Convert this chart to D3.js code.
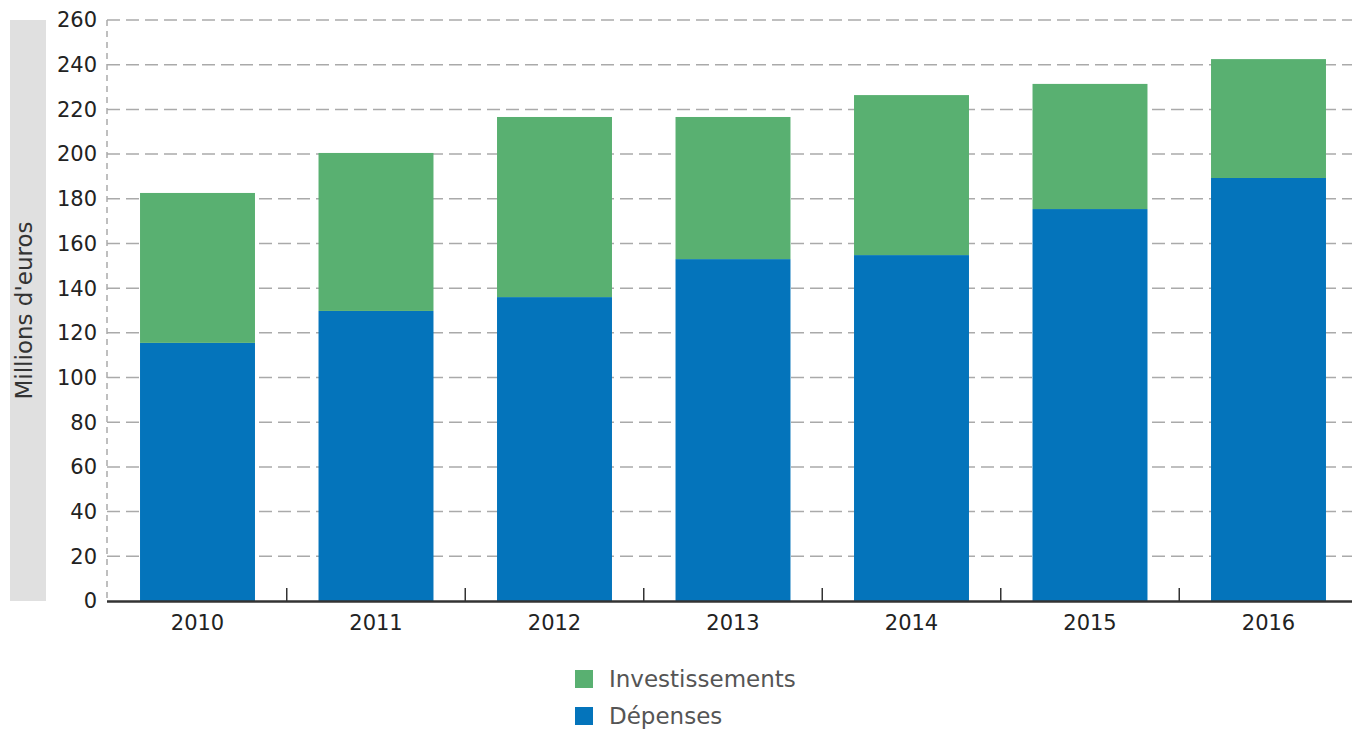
<!DOCTYPE html>
<html>
<head>
<meta charset="utf-8">
<script src="https://cdn.jsdelivr.net/npm/d3@7"></script>
<style>
  body { margin: 0; background: #fff; }
  svg { display: block; font-family: "DejaVu Sans", sans-serif; }
</style>
</head>
<body>
<div id="chart"></div>
<script>
// données
const years = ['2010', '2011', '2012', '2013', '2014', '2015', '2016'];
const depenses = [115.5, 129.8, 136.0, 153.0, 154.8, 175.4, 189.3];
const investissements = [67.1, 70.7, 80.6, 63.6, 71.6, 56.0, 53.2];
const yTicks = [0, 20, 40, 60, 80, 100, 120, 140, 160, 180, 200, 220, 240, 260];
const seriesNames = ['Dépenses', 'Investissements'];
const colors = { 'Dépenses': '#0474bb', 'Investissements': '#59b071' };

const width = 1352, height = 729;
const margin = { top: 20, right: -7, bottom: 128, left: 107 };

const svg = d3.select('#chart').append('svg')
  .attr('width', width)
  .attr('height', height);

const x = d3.scaleBand()
  .domain(years)
  .range([margin.left, width - margin.right])
  .paddingInner(0.356)
  .paddingOuter(0.185);

const y = d3.scaleLinear()
  .domain([0, 260])
  .range([height - margin.bottom, margin.top]);

// bande grise du titre de l'axe
svg.append('rect')
  .attr('x', 10).attr('y', y(260))
  .attr('width', 36).attr('height', y(0) - y(260))
  .attr('fill', '#e0e0e0');

svg.append('text')
  .attr('transform', `translate(32,${(y(0) + y(260)) / 2}) rotate(-90)`)
  .attr('text-anchor', 'middle')
  .attr('font-size', 23)
  .attr('fill', '#333')
  .text("Millions d'euros");

// grille
svg.append('g')
  .selectAll('line')
  .data(yTicks.filter(d => d > 0))
  .join('line')
  .attr('x1', margin.left).attr('x2', width)
  .attr('y1', d => y(d)).attr('y2', d => y(d))
  .attr('stroke', '#aaa')
  .attr('stroke-width', 1.5)
  .attr('stroke-dasharray', '13,6');

// axe vertical en pointillés
svg.append('line')
  .attr('x1', margin.left).attr('x2', margin.left)
  .attr('y1', y(260)).attr('y2', y(0))
  .attr('stroke', '#aaa')
  .attr('stroke-width', 1.5)
  .attr('stroke-dasharray', '6,5');

// étiquettes Y
svg.append('g')
  .selectAll('text')
  .data(yTicks)
  .join('text')
  .attr('x', 97)
  .attr('y', d => y(d))
  .attr('dy', '0.35em')
  .attr('text-anchor', 'end')
  .attr('font-size', 21)
  .attr('fill', '#222')
  .text(d => d);

// barres empilées
const table = years.map((yr, i) => ({
  year: yr,
  'Dépenses': depenses[i],
  'Investissements': investissements[i]
}));
const stacked = d3.stack().keys(seriesNames)(table);

svg.append('g')
  .selectAll('g')
  .data(stacked)
  .join('g')
  .attr('fill', d => colors[d.key])
  .selectAll('rect')
  .data(d => d)
  .join('rect')
  .attr('x', d => x(d.data.year))
  .attr('width', x.bandwidth())
  .attr('y', d => y(d[1]))
  .attr('height', d => y(d[0]) - y(d[1]));

// axe horizontal
const step = x.step();
const boundaries = years.slice(1).map(yr => x(yr) - step * x.paddingInner() / 2);
svg.append('g')
  .selectAll('line')
  .data(boundaries)
  .join('line')
  .attr('x1', d => d).attr('x2', d => d)
  .attr('y1', y(0)).attr('y2', y(0) - 13)
  .attr('stroke', '#333')
  .attr('stroke-width', 1.5);

svg.append('line')
  .attr('x1', margin.left).attr('x2', width)
  .attr('y1', y(0) + 0.5).attr('y2', y(0) + 0.5)
  .attr('stroke', '#333')
  .attr('stroke-width', 2.5);

svg.append('g')
  .selectAll('text')
  .data(years)
  .join('text')
  .attr('x', d => x(d) + x.bandwidth() / 2)
  .attr('y', y(0) + 29)
  .attr('text-anchor', 'middle')
  .attr('font-size', 21)
  .attr('fill', '#222')
  .text(d => d);

// légende
const legendItems = ['Investissements', 'Dépenses'];
const legend = svg.append('g')
  .selectAll('g')
  .data(legendItems)
  .join('g')
  .attr('transform', (d, i) => `translate(575,${670 + i * 37})`);

legend.append('rect')
  .attr('width', 18).attr('height', 18)
  .attr('fill', d => colors[d]);

legend.append('text')
  .attr('x', 34).attr('y', 9)
  .attr('dy', '0.35em')
  .attr('font-size', 23)
  .attr('fill', '#555')
  .text(d => d);
</script>
</body>
</html>
